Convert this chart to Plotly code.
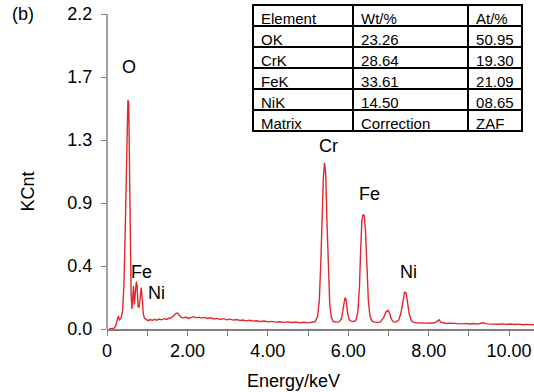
import plotly.graph_objects as go

# Spectrum (energy keV, counts in KCnt)
energy = [0.05, 0.12, 0.18, 0.22, 0.25, 0.28, 0.31, 0.35, 0.39, 0.42, 0.45, 0.48, 0.50, 0.52, 0.54, 0.56,
          0.58, 0.60, 0.62, 0.64, 0.66, 0.68, 0.70, 0.73, 0.75, 0.77, 0.80, 0.82, 0.85, 0.88, 0.90, 0.93,
          0.97, 1.02, 1.08, 1.13, 1.18, 1.24, 1.30, 1.36, 1.42, 1.48, 1.54, 1.60, 1.66, 1.71, 1.75, 1.79,
          1.84, 1.90, 1.96, 2.02, 2.08, 2.15, 2.22, 2.29, 2.36, 2.43, 2.50, 2.58, 2.66, 2.74, 2.82, 2.90,
          2.98, 3.06, 3.14, 3.22, 3.30, 3.38, 3.46, 3.55, 3.64, 3.73, 3.82, 3.91, 4.00, 4.10, 4.20, 4.30,
          4.40, 4.50, 4.60, 4.70, 4.80, 4.90, 5.00, 5.10, 5.18, 5.24, 5.28, 5.32, 5.35, 5.38, 5.41, 5.44,
          5.47, 5.50, 5.54, 5.58, 5.63, 5.70, 5.77, 5.83, 5.88, 5.92, 5.95, 5.98, 6.02, 6.07, 6.13, 6.19,
          6.24, 6.28, 6.31, 6.34, 6.37, 6.40, 6.43, 6.46, 6.50, 6.54, 6.59, 6.65, 6.72, 6.80, 6.88, 6.94,
          6.99, 7.03, 7.07, 7.12, 7.18, 7.25, 7.31, 7.36, 7.40, 7.44, 7.48, 7.52, 7.57, 7.63, 7.70, 7.78,
          7.86, 7.94, 8.02, 8.10, 8.17, 8.22, 8.26, 8.30, 8.36, 8.44, 8.52, 8.62, 8.72, 8.82, 8.92, 9.02,
          9.12, 9.22, 9.30, 9.36, 9.44, 9.54, 9.64, 9.74, 9.84, 9.94, 10.04, 10.14, 10.24, 10.34, 10.44,
          10.54, 10.62]
counts = [0.000, 0.002, 0.006, 0.025, 0.060, 0.090, 0.065, 0.075, 0.130, 0.300, 0.640, 1.000, 1.250, 1.600, 1.580, 1.150,
          0.520, 0.240, 0.140, 0.200, 0.300, 0.170, 0.220, 0.330, 0.300, 0.160, 0.150, 0.220, 0.290, 0.200, 0.110, 0.075,
          0.065, 0.058, 0.066, 0.060, 0.068, 0.062, 0.070, 0.064, 0.072, 0.067, 0.075, 0.080, 0.092, 0.108, 0.112, 0.098,
          0.082, 0.076, 0.083, 0.074, 0.079, 0.086, 0.078, 0.083, 0.076, 0.081, 0.073, 0.078, 0.070, 0.074, 0.067, 0.072,
          0.064, 0.069, 0.062, 0.066, 0.060, 0.063, 0.057, 0.061, 0.055, 0.058, 0.052, 0.056, 0.050, 0.053, 0.048, 0.051,
          0.046, 0.050, 0.045, 0.048, 0.044, 0.047, 0.043, 0.046, 0.052, 0.090, 0.200, 0.480, 0.840, 1.050, 1.160, 1.080,
          0.760, 0.420, 0.170, 0.080, 0.052, 0.048, 0.050, 0.070, 0.140, 0.220, 0.200, 0.120, 0.065, 0.055, 0.052, 0.060,
          0.120, 0.300, 0.560, 0.760, 0.800, 0.790, 0.680, 0.450, 0.200, 0.090, 0.055, 0.048, 0.046, 0.050, 0.080, 0.120,
          0.130, 0.110, 0.070, 0.050, 0.048, 0.060, 0.110, 0.190, 0.260, 0.250, 0.180, 0.100, 0.058, 0.046, 0.044, 0.042,
          0.045, 0.041, 0.043, 0.040, 0.046, 0.058, 0.064, 0.048, 0.042, 0.039, 0.041, 0.038, 0.040, 0.036, 0.039, 0.035,
          0.038, 0.034, 0.040, 0.044, 0.036, 0.034, 0.037, 0.033, 0.036, 0.032, 0.035, 0.031, 0.034, 0.030, 0.032,
          0.029, 0.030]

# Peak labels
peak_labels = ["O", "Fe", "Ni", "Cr", "Fe", "Ni"]
peak_x = [0.55, 0.87, 1.24, 5.5, 6.52, 7.49]
peak_y = [1.83, 0.40, 0.25, 1.28, 0.94, 0.40]

# Y ticks (labels as printed in the reference)
y_tickvals = [0.0, 0.44, 0.88, 1.32, 1.76, 2.2]
y_ticktext = ["0.0", "0.4", "0.9", "1.3", "1.7", "2.2"]
x_tickvals = [0, 1, 2, 3, 4, 5, 6, 7, 8, 9, 10]
x_ticktext = ["0", "", "2.00", "", "4.00", "", "6.00", "", "8.00", "", "10.00"]

# Composition table
tbl_header = ["Element", "Wt/%", "At/%"]
tbl_element = ["OK", "CrK", "FeK", "NiK", "Matrix"]
tbl_wt = ["23.26", "28.64", "33.61", "14.50", "Correction"]
tbl_at = ["50.95", "19.30", "21.09", "08.65", "ZAF"]

FONT = "Liberation Sans, Arial, sans-serif"
RED = "#e0282e"
GRAY = "#808080"

fig = go.Figure()
fig.add_trace(go.Scatter(x=energy, y=counts, mode="lines",
                         line=dict(color=RED, width=1.4), showlegend=False,
                         hoverinfo="skip"))

fig.add_trace(go.Table(
    domain=dict(x=[0.342, 0.972], y=[0.606, 0.997]),
    columnwidth=[100, 115, 54],
    header=dict(values=tbl_header, align="left", height=21,
                font=dict(family=FONT, size=15, color="black"),
                line=dict(color="black", width=1.5), fill=dict(color="white")),
    cells=dict(values=[tbl_element, tbl_wt, tbl_at], align="left", height=21,
               font=dict(family=FONT, size=15, color="black"),
               line=dict(color="black", width=1.5), fill=dict(color="white")),
))

for t, xx, yy in zip(peak_labels, peak_x, peak_y):
    fig.add_annotation(x=xx, y=yy, text=t, showarrow=False,
                       font=dict(family=FONT, size=18, color="black"))

fig.add_annotation(xref="paper", yref="paper", x=-0.197, y=0.97, text="(b)",
                   showarrow=False, xanchor="center", yanchor="middle",
                   font=dict(family=FONT, size=18, color="black"))

# axis titles
fig.add_annotation(xref="paper", yref="paper", x=-0.186, y=0.4215, text="KCnt",
                   textangle=-90, showarrow=False, xanchor="center", yanchor="middle",
                   font=dict(family=FONT, size=18, color="black"))
fig.add_annotation(xref="paper", yref="paper", x=0.4356, y=-0.16, text="Energy/keV",
                   showarrow=False, xanchor="center", yanchor="middle",
                   font=dict(family=FONT, size=18, color="black"))

# y axis line only up to the top tick
fig.add_shape(type="line", xref="paper", yref="y", x0=0, x1=0, y0=0, y1=2.2,
              line=dict(color=GRAY, width=1.5))

fig.update_layout(
    width=534, height=392,
    margin=dict(l=107, r=0, t=4, b=63),
    paper_bgcolor="white", plot_bgcolor="white",
    font=dict(family=FONT, size=18, color="black"),
    xaxis=dict(range=[0, 10.62], tickvals=x_tickvals, ticktext=x_ticktext,
               ticks="outside", ticklen=5, tickwidth=1.2, tickcolor=GRAY,
               showline=True, linecolor=GRAY, linewidth=1.5, showgrid=False,
               zeroline=False, tickfont=dict(size=18), automargin=False),
    yaxis=dict(range=[0, 2.27], tickvals=y_tickvals, ticktext=y_ticktext,
               ticks="outside", ticklen=5, tickwidth=1.2, tickcolor=GRAY,
               showline=False, showgrid=False, zeroline=False,
               tickfont=dict(size=18), automargin=False, ticklabelstandoff=5),
)

fig.write_html("out.html", config={"displayModeBar": False},
               post_script="document.body.style.margin='0';document.body.style.overflow='hidden';")
